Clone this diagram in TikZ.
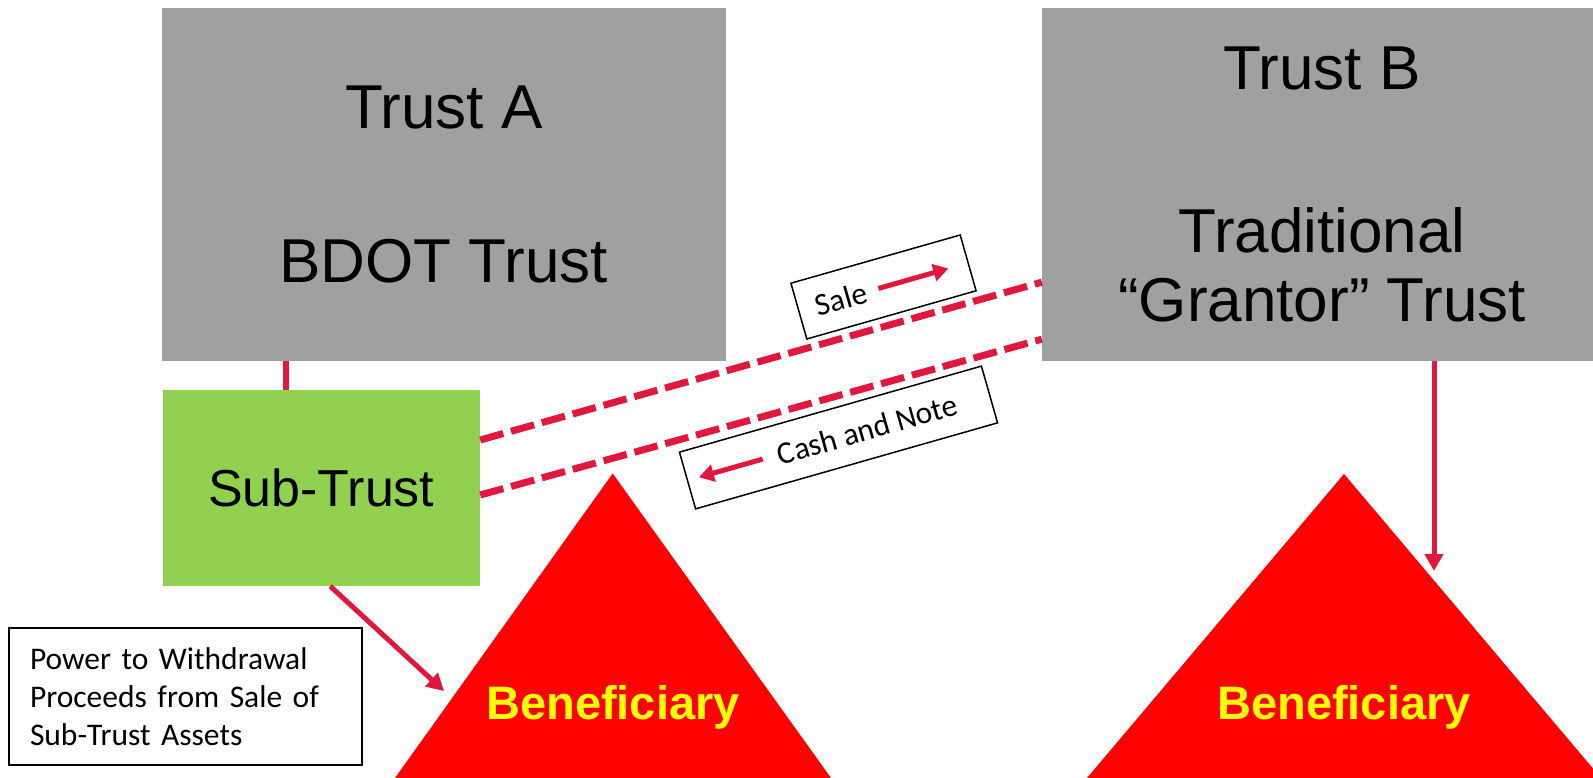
\documentclass[tikz,border=0pt]{standalone}
\usepackage{fontspec}
\setmainfont{Liberation Sans}
\newfontfamily\notefont{Carlito}
\usepackage{tikz}
\usetikzlibrary{arrows.meta, calc}

\definecolor{trustgray}{HTML}{A0A0A0}
\definecolor{subgreen}{HTML}{92D050}
\definecolor{benred}{HTML}{FF0000}
\definecolor{benyellow}{HTML}{FFFF00}
\definecolor{linkred}{HTML}{E2173D}

\begin{document}
\begin{tikzpicture}[
  x=1pt, y=-1pt,
  trustbox/.style={fill=trustgray, minimum width=561pt, minimum height=353pt, align=center,
    font=\fontsize{62pt}{73pt}\selectfont},
  subbox/.style={fill=subgreen, minimum width=317.5pt, minimum height=196pt,
    font=\fontsize{52pt}{62pt}\selectfont},
  notebox/.style={draw, line width=1.5pt, inner sep=0pt, fill=white,
    font=\notefont\fontsize{31.5pt}{38pt}\selectfont},
  benlabel/.style={text=benyellow, anchor=base, font=\bfseries\fontsize{47pt}{56pt}\selectfont},
  link/.style={draw=linkred, line width=6pt},
  arr/.style={draw=linkred, fill=linkred, line width=5pt, -{Triangle[length=17pt, width=18pt]}},
  swap/.style={draw=linkred, fill=linkred, line width=5pt, -{Triangle[length=15pt, width=17pt]}},
  dealline/.style={draw=linkred, line width=7pt, dash pattern=on 24pt off 8pt}
]
  \useasboundingbox (0,0) rectangle (1593,778);

  \fill[benred] (612.7,473.5) -- (395,778) -- (831,778) -- cycle;
  \fill[benred] (1344,474) -- (1087,778) -- (1601,778) -- cycle;
  \node[benlabel] (benA) at (613,719) {Beneficiary};
  \node[benlabel] (benB) at (1344,719) {Beneficiary};
  \coordinate (hitA) at (444,691);
  \coordinate (hitB) at (1434,571);

  \node[trustbox, minimum width=563.5pt] (trustA) at (443.75,184.5) {Trust A\\[81pt]BDOT Trust};
  \node[trustbox, minimum width=560pt] (trustB) at (1322,184.5) {Trust B\\[89.5pt]Traditional\\[-4pt]“Grantor” Trust};
  \node[subbox] (sub) at (321.25,488) {Sub-Trust};

  \node[notebox, minimum width=176pt, minimum height=58pt, rotate=15.9] (sale) at (883.5,287) {Sale\kern88pt};
  \node[notebox, minimum width=314pt, minimum height=59pt, rotate=15.9] (cash) at (838.5,437.5) {\kern60pt Cash and Note};
  \node[notebox, minimum width=353pt, minimum height=137pt, text width=311pt, inner xsep=21pt,
    align=left] (power) at (185.5,696.5) {Power to Withdrawal\\Proceeds from Sale of\\Sub-Trust Assets};

  \draw[link] ([xshift=123.5pt]sub.north west) -- ([xshift=123.5pt]sub.north west |- trustA.south);
  \draw[arr] ([xshift=9pt]sub.south) -- (hitA);
  \draw[arr] (trustB.south -| hitB) -- (hitB);
  \draw[dealline] ([yshift=48pt]sub.east) -- ([yshift=79pt]trustB.south west);
  \draw[dealline] ([yshift=-7pt]sub.east) -- ([yshift=22pt]trustB.south west);
  \draw[swap] ($(sale.west)!0.47!(sale.east)$) -- ($(sale.west)!0.88!(sale.east)$);
  \draw[swap] ($(cash.west)!0.25!(cash.east)$) -- ($(cash.west)!0.04!(cash.east)$);
\end{tikzpicture}
\end{document}
